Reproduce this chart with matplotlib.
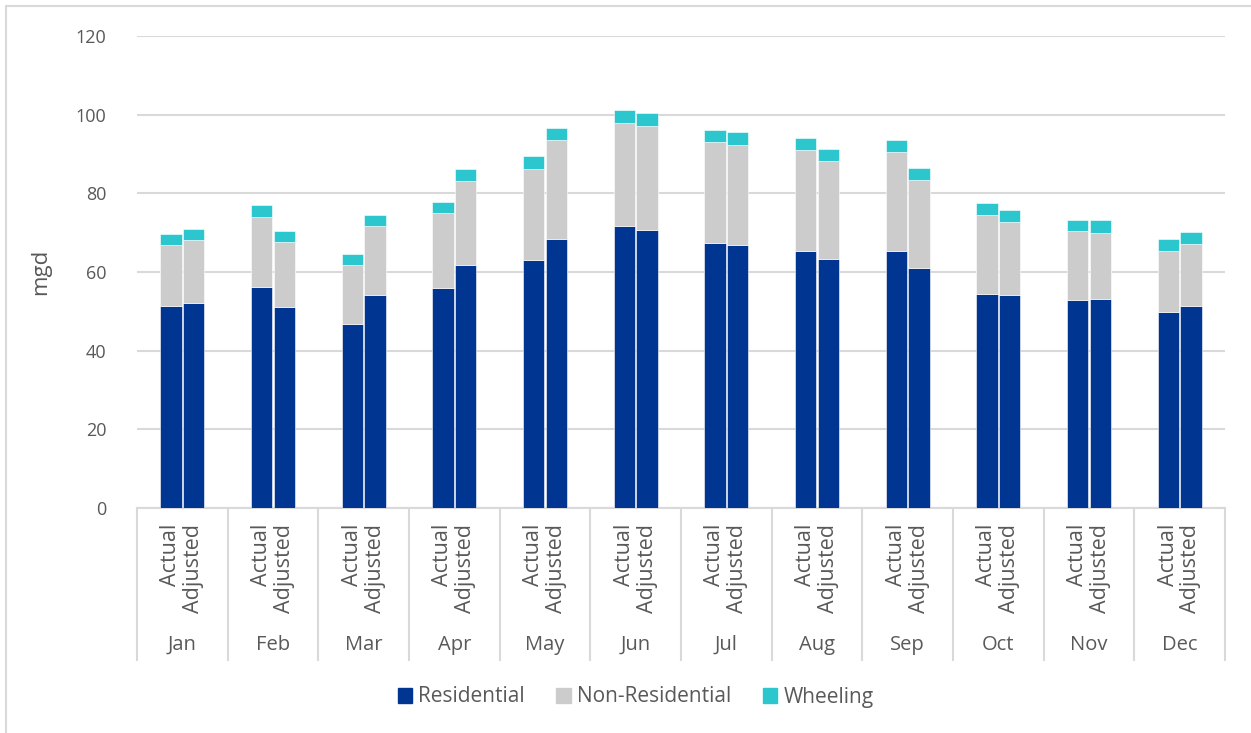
import numpy as np
import matplotlib
matplotlib.use("Agg")
import matplotlib.pyplot as plt
import matplotlib.transforms as mtransforms
from matplotlib.lines import Line2D

plt.rcParams['font.family'] = ['Open Sans', 'DejaVu Sans']

# data (mgd)
months = ['Jan', 'Feb', 'Mar', 'Apr', 'May', 'Jun', 'Jul', 'Aug', 'Sep', 'Oct', 'Nov', 'Dec']
sub_labels = ['Actual', 'Adjusted']

res_actual = [51.3, 56.1, 46.8, 56.0, 63.1, 71.6, 67.4, 65.4, 65.4, 54.4, 52.8, 49.9]
res_adjusted = [52.1, 51.1, 54.2, 61.9, 68.5, 70.7, 66.9, 63.4, 61.1, 54.1, 53.2, 51.3]
nonres_actual = [15.5, 17.9, 15.1, 18.9, 23.1, 26.3, 25.7, 25.5, 25.0, 20.2, 17.5, 15.5]
nonres_adjusted = [16.0, 16.6, 17.5, 21.3, 25.1, 26.4, 25.5, 24.8, 22.4, 18.7, 16.8, 15.7]
wheel_actual = [2.8, 3.1, 2.7, 3.0, 3.3, 3.2, 3.0, 3.2, 3.2, 2.9, 3.0, 3.0]
wheel_adjusted = [2.9, 2.8, 2.9, 3.1, 3.1, 3.3, 3.2, 3.1, 2.9, 2.9, 3.3, 3.2]

c_res = '#003591'
c_non = '#CCCCCC'
c_wh = '#2CC6CF'
txt = '#595959'
grid_c = '#D9D9D9'

fig = plt.figure(figsize=(12.51, 7.33), dpi=100)
ax = fig.add_axes([137 / 1251, (733 - 508) / 733, (1225 - 137) / 1251, 472 / 733])

x = np.arange(len(months))
w = 0.235
off = 0.125

for pos, res, non, wh in [(x - off, res_actual, nonres_actual, wheel_actual),
                          (x + off, res_adjusted, nonres_adjusted, wheel_adjusted)]:
    res = np.array(res)
    non = np.array(non)
    wh = np.array(wh)
    ax.bar(pos, res, w, color=c_res, edgecolor='white', linewidth=0.4, zorder=3)
    ax.bar(pos, non, w, bottom=res, color=c_non, edgecolor='white', linewidth=0.4, zorder=3)
    ax.bar(pos, wh, w, bottom=res + non, color=c_wh, edgecolor='white', linewidth=0.4, zorder=3)

ax.set_xlim(-0.5, len(months) - 0.5)
ax.set_ylim(0, 120)
ax.set_yticks(np.arange(0, 121, 20))
ax.yaxis.grid(True, color=grid_c, linewidth=1.5)
ax.set_axisbelow(True)
for s in ['top', 'right', 'left']:
    ax.spines[s].set_visible(False)
ax.spines['bottom'].set_color(grid_c)
ax.spines['bottom'].set_linewidth(1.5)
ax.tick_params(axis='y', length=0, labelsize=13, labelcolor=txt, pad=22)
ax.set_xticks([])
ax.set_ylabel('mgd', fontsize=16, color=txt, labelpad=18)

# two-level category axis
trans = mtransforms.blended_transform_factory(ax.transData, ax.transAxes)
for b in np.arange(-0.5, len(months), 1.0):
    ax.add_line(Line2D([b, b], [0, -0.322], transform=trans, color=grid_c,
                       linewidth=1.5, clip_on=False))
for i, m in enumerate(months):
    for j, lab in enumerate(sub_labels):
        ax.text(i + (j * 2 - 1) * off, -0.033, lab, transform=trans, rotation=90,
                ha='center', va='top', fontsize=15.5, color=txt)
    ax.text(i, -0.29, m, transform=trans, ha='center', va='center', fontsize=14.5, color=txt)

handles = [plt.Rectangle((0, 0), 1, 1, color=c) for c in (c_res, c_non, c_wh)]
fig.legend(handles, ['Residential', 'Non-Residential', 'Wheeling'], loc='center',
           bbox_to_anchor=(0.508, 1 - 697 / 733), ncol=3, frameon=False,
           fontsize=15, handlelength=0.7, handleheight=0.7, handletextpad=0.3,
           columnspacing=1.5, labelcolor=txt)

# outer chart border (top and left visible)
fig.add_artist(Line2D([6 / 1251, 1], [1 - 6 / 733] * 2, transform=fig.transFigure,
                      color=grid_c, linewidth=1.5))
fig.add_artist(Line2D([6 / 1251] * 2, [0, 1 - 6 / 733], transform=fig.transFigure,
                      color=grid_c, linewidth=1.5))

fig.savefig('out.png', dpi=100)
